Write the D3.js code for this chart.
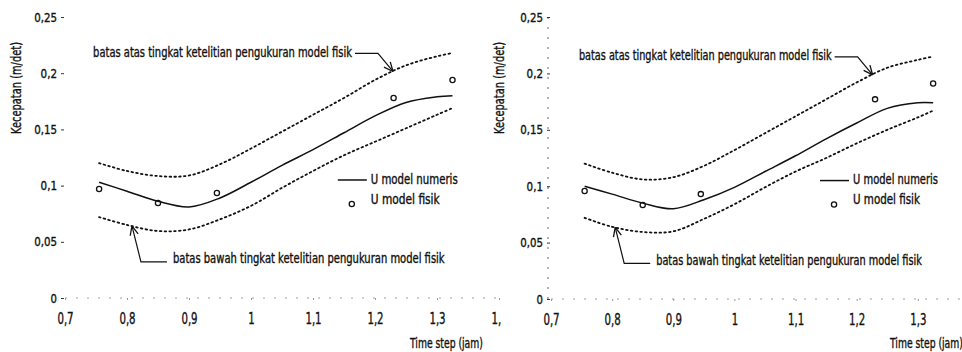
<!DOCTYPE html>
<html>
<head>
<meta charset="utf-8">
<script src="https://cdn.jsdelivr.net/npm/d3@7"></script>
<style>
  html, body { margin: 0; padding: 0; background: #fff; }
  svg { display: block; }
  text {
    font-family: "Liberation Sans Narrow", "Arial Narrow", "DejaVu Sans Condensed", "Liberation Sans", sans-serif;
    fill: #111; stroke: #111; stroke-width: 0.35px;
  }
</style>
</head>
<body>
<svg id="chart" width="962" height="352"></svg>
<script>
// Axis ticks
const timeTicks = [0.7, 0.8, 0.9, 1.0, 1.1, 1.2, 1.3, 1.4];
const velocityTicks = [0, 0.05, 0.1, 0.15, 0.2, 0.25];

// Sample times along the curves (jam)
const curveTimes = [0.755, 0.80, 0.85, 0.90, 0.95, 1.00, 1.05, 1.10, 1.15, 1.20, 1.25, 1.30, 1.325];

// Left panel: numerical model and accuracy bounds of the physical model (m/det)
const leftNumeris = [0.103, 0.095, 0.086, 0.081, 0.089, 0.103, 0.118, 0.132, 0.147, 0.162, 0.174, 0.179, 0.180];
const leftUpper   = [0.120, 0.113, 0.1085, 0.109, 0.119, 0.133, 0.148, 0.163, 0.178, 0.194, 0.207, 0.215, 0.218];
const leftLower   = [0.072, 0.065, 0.0596, 0.061, 0.070, 0.082, 0.098, 0.113, 0.127, 0.139, 0.151, 0.163, 0.169];

// Right panel
const rightNumeris = [0.100, 0.093, 0.085, 0.080, 0.088, 0.099, 0.113, 0.127, 0.142, 0.156, 0.169, 0.174, 0.174];
const rightUpper   = [0.120, 0.112, 0.106, 0.108, 0.118, 0.132, 0.147, 0.162, 0.177, 0.192, 0.205, 0.212, 0.215];
const rightLower   = [0.072, 0.064, 0.0594, 0.060, 0.071, 0.084, 0.099, 0.113, 0.125, 0.138, 0.150, 0.161, 0.167];

// Physical model measurements
const fisikTimes = [0.755, 0.85, 0.945, 1.23, 1.325];
const leftFisik  = [0.097, 0.0845, 0.0934, 0.178, 0.194];
const rightFisik = [0.0957, 0.0833, 0.093, 0.177, 0.191];

// Text
const labelUpper = "batas atas tingkat ketelitian pengukuran model fisik";
const labelLower = "batas bawah tingkat ketelitian pengukuran model fisik";
const legendNumeris = "U model numeris";
const legendFisik = "U model fisik";
const yTitle = "Kecepatan (m/det)";
const xTitle = "Time step (jam)";

const fmt = v => String(+v.toFixed(2)).replace(".", ",");
// width of a tick label in the condensed face: digits and comma
const labelWidth = (s, digitW, commaW) =>
  [...s].reduce((w, c) => w + (c === "," ? commaW : digitW), 0);

const svg = d3.select("#chart");
const defs = svg.append("defs");

// Place a text at (x, y), squeezed horizontally to a given width
function fitText(parent, str, x, y, width, size, anchor, rotate) {
  const t = parent.append("text")
    .attr("font-size", size)
    .attr("text-anchor", anchor || "start")
    .attr("dominant-baseline", "central")
    .text(str);
  const natural = t.node().getComputedTextLength();
  const s = width / natural;
  t.attr("transform", `translate(${x},${y})${rotate ? ` rotate(${rotate})` : ""} scale(${s},1)`);
  return t;
}

const panels = [
  { id: "left",  x0: 65,  x1: 499, y0: 298, y1: 17, clipX: 0, clipW: 501,
    numeris: leftNumeris, upper: leftUpper, lower: leftLower, fisik: leftFisik,
    upTip: 1.229, lowTip: 0.808, titleX: 17, upperW: 259, lowerW: 272,
    legW1: 87, legW2: 69 },
  { id: "right", x0: 551, x1: 979, y0: 299, y1: 17, clipX: 480, clipW: 482,
    numeris: rightNumeris, upper: rightUpper, lower: rightLower, fisik: rightFisik,
    upTip: 1.226, lowTip: 0.805, titleX: 500, upperW: 253, lowerW: 266,
    legW1: 85, legW2: 67, axisDash: true }
];

panels.forEach(p => {
  const clipId = "clip-" + p.id;
  defs.append("clipPath").attr("id", clipId)
    .append("rect").attr("x", p.clipX).attr("y", 0)
    .attr("width", p.clipW).attr("height", 352);

  const g = svg.append("g").attr("clip-path", `url(#${clipId})`);
  const x = d3.scaleLinear().domain([0.7, 1.4]).range([p.x0, p.x1]);
  const y = d3.scaleLinear().domain([0, 0.25]).range([p.y0, p.y1]);

  // faint axis lines
  g.append("line").attr("x1", p.x0).attr("x2", p.x1).attr("y1", y(0)).attr("y2", y(0))
    .attr("stroke", "#777").attr("stroke-width", 1).attr("stroke-dasharray", "2,9").attr("opacity", 0.7);
  if (p.axisDash) {
    g.append("line").attr("x1", p.x0 - 3).attr("x2", p.x0 - 3).attr("y1", y(0)).attr("y2", y(0.25))
      .attr("stroke", "#666").attr("stroke-width", 1).attr("stroke-dasharray", "2,8");
  }

  // y axis
  const yAxis = d3.axisLeft(y).tickValues(velocityTicks).tickFormat(fmt).tickSize(3).tickPadding(4);
  const ya = g.append("g").attr("transform", `translate(${p.x0 - 1},0)`).call(yAxis);
  ya.select(".domain").remove();
  ya.selectAll(".tick line").attr("stroke", "#333");
  ya.selectAll(".tick text").attr("font-size", 12.5).attr("fill", "#111")
    .attr("textLength", d => labelWidth(fmt(d), 6.4, 3.6)).attr("lengthAdjust", "spacingAndGlyphs")
    .style("font-family", '"Liberation Sans Narrow", "Arial Narrow", "DejaVu Sans Condensed", sans-serif');

  // x axis
  const xAxis = d3.axisBottom(x).tickValues(timeTicks).tickFormat(fmt).tickSize(2).tickPadding(13);
  const xa = g.append("g").attr("transform", `translate(0,${y(0)})`).call(xAxis);
  xa.select(".domain").remove();
  xa.selectAll(".tick line").attr("stroke", "#999");
  xa.selectAll(".tick text").attr("font-size", 15).attr("fill", "#111")
    .attr("textLength", d => labelWidth(fmt(d), 6.4, 3.4)).attr("lengthAdjust", "spacingAndGlyphs")
    .style("font-family", '"Liberation Sans Narrow", "Arial Narrow", "DejaVu Sans Condensed", sans-serif');

  // axis titles
  fitText(g, yTitle, p.titleX, 88, 92, 13.5, "middle", -90);
  fitText(g, xTitle, x(1.4) - 89, 343, 73, 14, "start");

  const line = d3.line()
    .x((d, i) => x(curveTimes[i]))
    .y(d => y(d))
    .curve(d3.curveCatmullRom.alpha(0.5));

  // accuracy bounds (dotted)
  [p.upper, p.lower].forEach(arr => {
    g.append("path").attr("d", line(arr))
      .attr("fill", "none").attr("stroke", "#111").attr("stroke-width", 1.8)
      .attr("stroke-dasharray", "1.6,3.2").attr("stroke-linecap", "round");
  });

  // numerical model (solid)
  g.append("path").attr("d", line(p.numeris))
    .attr("fill", "none").attr("stroke", "#111").attr("stroke-width", 1.5);

  // physical model measurements
  g.selectAll("circle.fisik").data(p.fisik).join("circle")
    .attr("class", "fisik")
    .attr("cx", (d, i) => x(fisikTimes[i])).attr("cy", d => y(d))
    .attr("r", 2.6).attr("fill", "none").attr("stroke", "#111").attr("stroke-width", 1.3);

  // value on a curve at time t (linear between samples)
  const interp = (arr, t) => d3.scaleLinear().domain(curveTimes).range(arr)(t);

  const arrowHead = (tx, ty, fx, fy) => {
    const ang = Math.atan2(fy - ty, fx - tx);
    const L = 10, spread = 0.42;
    [ang - spread, ang + spread].forEach(a => {
      g.append("line").attr("x1", tx).attr("y1", ty)
        .attr("x2", tx + L * Math.cos(a)).attr("y2", ty + L * Math.sin(a))
        .attr("stroke", "#111").attr("stroke-width", 1.3);
    });
  };

  // upper bound annotation
  const utx = x(p.upTip), uty = y(interp(p.upper, p.upTip));
  const uex = utx - 15, uey = uty - 18;
  g.append("polyline")
    .attr("points", [[uex - 23, uey], [uex, uey], [utx, uty]].map(d => d.join(",")).join(" "))
    .attr("fill", "none").attr("stroke", "#111").attr("stroke-width", 1.2);
  arrowHead(utx, uty, uex, uey);
  fitText(g, labelUpper, uex - 26, uey - 1, p.upperW, 13.5, "end");

  // lower bound annotation
  const ltx = x(p.lowTip), lty = y(interp(p.lower, p.lowTip));
  const lcx = ltx + 9, lcy = lty + 36;
  g.append("polyline")
    .attr("points", [[ltx, lty], [lcx, lcy], [lcx + 26, lcy]].map(d => d.join(",")).join(" "))
    .attr("fill", "none").attr("stroke", "#111").attr("stroke-width", 1.2);
  arrowHead(ltx, lty, lcx, lcy);
  fitText(g, labelLower, lcx + 32, lcy - 3, p.lowerW, 13.5, "start");

  // legend
  const lx = x(1.14), ly1 = y(0.105), ly2 = ly1 + 22;
  g.append("line").attr("x1", lx).attr("x2", lx + 29).attr("y1", ly1).attr("y2", ly1)
    .attr("stroke", "#111").attr("stroke-width", 1.5);
  fitText(g, legendNumeris, lx + 33, ly1 - 1, p.legW1, 13.5, "start");
  g.append("circle").attr("cx", lx + 14).attr("cy", ly2 + 2).attr("r", 2.6)
    .attr("fill", "none").attr("stroke", "#111").attr("stroke-width", 1.3);
  fitText(g, legendFisik, lx + 33, ly2 - 3, p.legW2, 13.5, "start");
});
</script>
</body>
</html>
